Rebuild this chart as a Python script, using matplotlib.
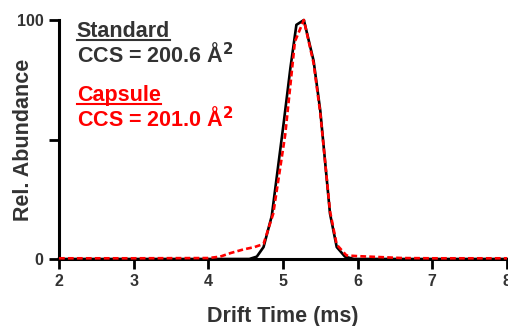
import numpy as np
from matplotlib import pyplot as plt
from matplotlib.lines import Line2D

plt.rcParams['font.family'] = ['Liberation Sans', 'DejaVu Sans']
plt.rcParams['font.weight'] = 'bold'
plt.rcParams['axes.labelweight'] = 'bold'
plt.rcParams['mathtext.default'] = 'bf'

# drift time (ms) vs relative abundance
std_time = [2.0, 4.0, 4.55, 4.60, 4.65, 4.74, 4.85, 5.01, 5.10, 5.18, 5.28,
            5.41, 5.50, 5.63, 5.72, 5.83, 5.95, 8.0]
std_abund = [0, 0, 0, 0.5, 1, 5, 18, 57, 80, 98, 100,
             83, 62, 19, 5, 1, 0, 0]

cap_time = [2.0, 3.0, 4.0, 4.16, 4.30, 4.47, 4.62, 4.74, 4.87, 5.03, 5.16, 5.28,
            5.41, 5.50, 5.63, 5.72, 5.85, 6.0, 6.3, 6.6, 7.0, 8.0]
cap_abund = [0.3, 0.3, 0.4, 1, 2.5, 4, 5, 6.3, 19, 52, 91, 100,
             82, 61, 20, 6, 1.5, 1.2, 0.8, 0.4, 0.3, 0.3]

labels = ['Standard', 'Capsule']
ccs = ['CCS = 200.6 Å$^{2}$', 'CCS = 201.0 Å$^{2}$']
colors = ['#333333', '#ff0000']

fig = plt.figure(figsize=(5.08, 3.26), dpi=100)
ax = fig.add_axes([0.116, 0.2055, 0.882, 0.733])

ax.plot(std_time, std_abund, color='black', lw=1.9, clip_on=False, zorder=3)
ax.plot(cap_time, cap_abund, color='#ff0000', lw=1.9, ls=(0, (2.2, 1.2)),
        clip_on=False, zorder=4)

ax.set_xlim(2, 8)
ax.set_ylim(0, 100)
ax.set_xticks(range(2, 9))
ax.set_yticks([0, 50, 100])
ax.set_yticklabels(['0', '', '100'])
for s in ['top', 'right']:
    ax.spines[s].set_visible(False)
for s in ['left', 'bottom']:
    ax.spines[s].set_linewidth(2.2)
ax.tick_params(direction='out', length=7, width=2, labelsize=11.5,
               labelcolor='#333333', pad=4)
ax.set_xlabel('Drift Time (ms)', fontsize=15.5, color='#333333', labelpad=12)
ax.set_ylabel('Rel. Abundance', fontsize=15.5, color='#333333')
ax.yaxis.set_label_coords(-0.056, 0.5)

name_y = [0.930, 0.662]
ccs_y = [0.824, 0.554]
texts = []
for lab, c, col, ny, cy in zip(labels, ccs, colors, name_y, ccs_y):
    t = ax.text(0.04, ny, lab, transform=ax.transAxes, fontsize=15.5,
                color=col, va='baseline', ha='left')
    ax.text(0.04, cy, c, transform=ax.transAxes, fontsize=15.5,
            color=col, va='baseline', ha='left')
    texts.append((t, col))

# underline the sample names
fig.canvas.draw()
inv = fig.transFigure.inverted()
for t, col in texts:
    bb = t.get_window_extent()
    (x0, y0), (x1, _) = inv.transform([[bb.x0, bb.y0], [bb.x1, bb.y1]])
    fig.add_artist(Line2D([x0, x1], [y0 + 0.006, y0 + 0.006], color=col, lw=1.5,
                          transform=fig.transFigure))

fig.savefig('out.png', dpi=100)
